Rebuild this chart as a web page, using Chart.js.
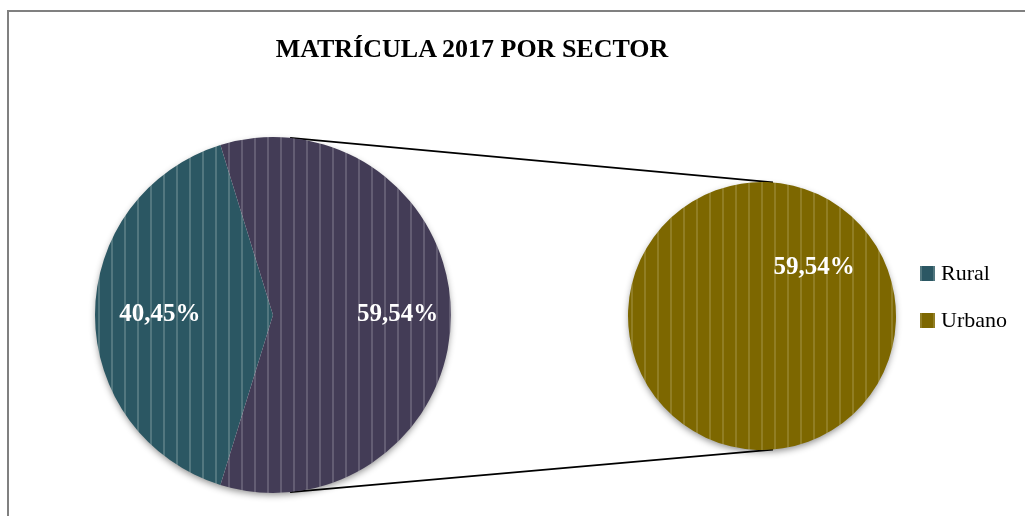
<!DOCTYPE html>
<html>
<head>
<meta charset="utf-8">
<script src="https://cdn.jsdelivr.net/npm/chart.js@4"></script>
<style>
  html, body { margin: 0; padding: 0; background: #fff; }
  #page { position: relative; width: 1025px; height: 516px; overflow: hidden; }
  #frame { position: absolute; left: 7px; top: 10px; right: -5px; bottom: -5px;
           border-left: 2px solid #808080; border-top: 2px solid #808080; }
  #overlay { position: absolute; left: 0; top: 0; }
  .pie { position: absolute; }
  #title { position: absolute; left: 0; width: 944px; top: 36px; text-align: center;
           font: bold 26px "Liberation Serif", serif; line-height: 25px; color: #000; }
  .lg-box { position: absolute; width: 15px; height: 15px; }
  .lg-text { position: absolute; font: 22px "Liberation Serif", serif; line-height: 21px; color: #000; }
</style>
</head>
<body>
<div id="page">
  <div id="frame"></div>
  <canvas id="overlay" width="1025" height="516"></canvas>
  <div class="pie" style="left:85px; top:127px; width:376px; height:376px;"><canvas id="mainPie"></canvas></div>
  <div class="pie" style="left:618px; top:172px; width:288px; height:288px;"><canvas id="subPie"></canvas></div>
  <div id="title">MATRÍCULA 2017 POR SECTOR</div>
  <div id="legend"></div>
</div>
<script>
  // ==========================
  // Data
  // ==========================
  const mainLabels  = ["Rural", "Urbano"];
  const mainValues  = [40.45, 59.54];
  const subLabels   = ["Urbano"];
  const subValues   = [59.54];
  const legendNames = ["Rural", "Urbano"];

  // ==========================
  // Striped fills
  // ==========================
  function stripes(base, line) {
    const c = document.createElement("canvas");
    c.width = 13; c.height = 4;
    const g = c.getContext("2d");
    g.fillStyle = base; g.fillRect(0, 0, 13, 4);
    g.fillStyle = line; g.fillRect(0, 0, 2, 4);
    return g.createPattern(c, "repeat");
  }
  const tealFill   = stripes("#2b5763", "#52777f");
  const purpleFill = stripes("#433c56", "#635d73");
  const oliveFill  = stripes("#7d6700", "#917e24");

  const fmt = v => v.toFixed(2).replace(".", ",") + "%";

  // shadow under each pie
  const shadowPlugin = {
    id: "pieShadow",
    beforeDatasetsDraw(chart) {
      const a = chart.getDatasetMeta(0).data[0];
      if (!a) return;
      const ctx = chart.ctx;
      ctx.save();
      ctx.shadowColor = "rgba(0,0,0,0.45)";
      ctx.shadowBlur = 7;
      ctx.shadowOffsetY = 3;
      ctx.fillStyle = "#ffffff";
      ctx.beginPath();
      ctx.arc(a.x, a.y, a.outerRadius - 1, 0, Math.PI * 2);
      ctx.fill();
      ctx.restore();
    }
  };

  // percentage labels
  const labelPlugin = {
    id: "pctLabels",
    afterDatasetsDraw(chart, args, opts) {
      const ctx = chart.ctx;
      const ds = chart.data.datasets[0];
      ctx.save();
      ctx.font = "bold 25px 'Liberation Serif', serif";
      ctx.fillStyle = "#ffffff";
      ctx.textAlign = "center";
      ctx.textBaseline = "middle";
      chart.getDatasetMeta(0).data.forEach((a, i) => {
        const mid = (a.startAngle + a.endAngle) / 2;
        const r = a.outerRadius * opts.factor[i];
        ctx.fillText(fmt(ds.data[i]), a.x + Math.cos(mid) * r, a.y + Math.sin(mid) * r);
      });
      ctx.restore();
    }
  };

  function pieOptions(rotation, factor) {
    return {
      responsive: true,
      maintainAspectRatio: false,
      animation: false,
      rotation: rotation,
      layout: { padding: 10 },
      plugins: {
        legend: { display: false },
        tooltip: { enabled: false },
        pctLabels: { factor: factor }
      }
    };
  }

  const mainChart = new Chart(document.getElementById("mainPie"), {
    type: "pie",
    data: {
      labels: mainLabels,
      datasets: [{ data: mainValues, backgroundColor: [tealFill, purpleFill], borderWidth: 0 }]
    },
    options: pieOptions(270 - mainValues[0] / (mainValues[0] + mainValues[1]) * 180, [0.635, 0.70]),
    plugins: [shadowPlugin, labelPlugin]
  });

  const subChart = new Chart(document.getElementById("subPie"), {
    type: "pie",
    data: {
      labels: subLabels,
      datasets: [{ data: subValues, backgroundColor: [oliveFill], borderWidth: 0 }]
    },
    options: pieOptions(-132.7, [0.53]),
    plugins: [shadowPlugin, labelPlugin]
  });

  // ==========================
  // Connector lines
  // ==========================
  function anchor(chart) {
    const a = chart.getDatasetMeta(0).data[0];
    const box = chart.canvas.parentNode;
    return { x: box.offsetLeft + a.x, y: box.offsetTop + a.y, r: a.outerRadius };
  }
  const L = anchor(mainChart), R = anchor(subChart);
  const oc = document.getElementById("overlay").getContext("2d");
  const la = 5.5 * Math.PI / 180, ra = 4.7 * Math.PI / 180;
  oc.strokeStyle = "#000";
  oc.lineWidth = 1.8;
  [-1, 1].forEach(s => {
    oc.beginPath();
    oc.moveTo(L.x + L.r * Math.sin(la), L.y + s * L.r * Math.cos(la));
    oc.lineTo(R.x + R.r * Math.sin(ra), R.y + s * R.r * Math.cos(ra));
    oc.stroke();
  });

  // ==========================
  // Legend
  // ==========================
  const legendFills = [tealFill, oliveFill];
  const legendElem = document.getElementById("legend");
  legendNames.forEach((name, i) => {
    const top = 266 + i * 47;
    const box = document.createElement("canvas");
    box.className = "lg-box";
    box.width = 15; box.height = 15;
    box.style.left = "920px"; box.style.top = top + "px";
    const bg = box.getContext("2d");
    bg.fillStyle = legendFills[i]; bg.fillRect(0, 0, 15, 15);
    legendElem.appendChild(box);
    const t = document.createElement("div");
    t.className = "lg-text";
    t.textContent = name;
    t.style.left = "941px"; t.style.top = (top - 4) + "px";
    legendElem.appendChild(t);
  });
</script>
</body>
</html>
